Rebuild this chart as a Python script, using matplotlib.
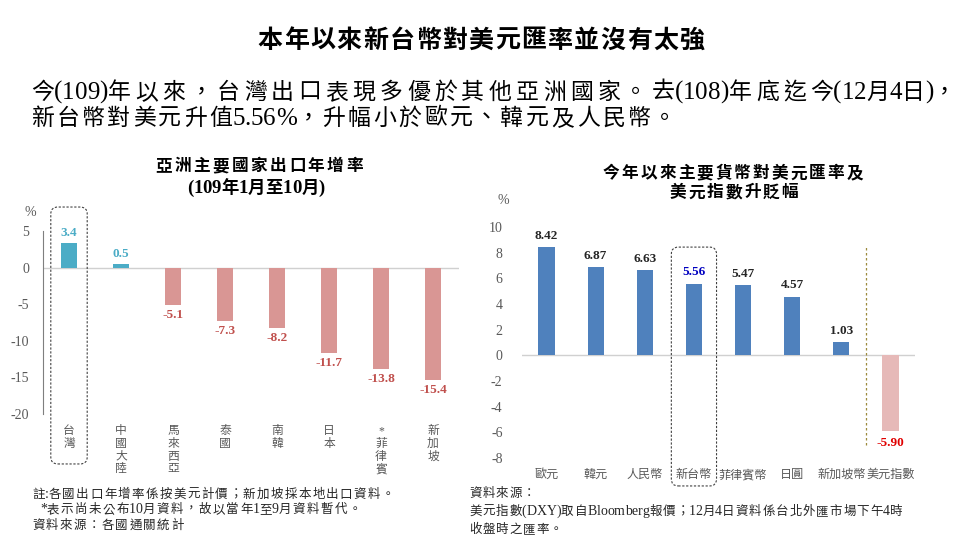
import matplotlib
matplotlib.use("Agg")
import matplotlib.pyplot as plt
from matplotlib.patches import FancyBboxPatch
from matplotlib.transforms import IdentityTransform, blended_transform_factory

FAM = ['Liberation Serif', 'Noto Sans CJK TC', 'DejaVu Sans']
plt.rcParams['font.family'] = FAM

# ---------------- data ----------------
export_countries = ['台灣', '中國大陸', '馬來西亞', '泰國', '南韓', '日本', '*菲律賓', '新加坡']
export_growth = [3.4, 0.5, -5.1, -7.3, -8.2, -11.7, -13.8, -15.4]
export_yticks = [5, 0, -5, -10, -15, -20]

currencies = ['歐元', '韓元', '人民幣', '新台幣', '菲律賓幣', '日圓', '新加坡幣', '美元指數']
currency_change = [8.42, 6.87, 6.63, 5.56, 5.47, 4.57, 1.03, -5.90]
currency_yticks = [10, 8, 6, 4, 2, 0, -2, -4, -6, -8]

title = '本年以來新台幣對美元匯率並沒有太強'
body_lines = ['今(109)年以來，台灣出口表現多優於其他亞洲國家。去(108)年底迄今(12月4日)，',
              '新台幣對美元升值5.56%，升幅小於歐元、韓元及人民幣。']
left_title = ['亞洲主要國家出口年增率', '(109年1月至10月)']
right_title = ['今年以來主要貨幣對美元匯率及', '美元指數升貶幅']
left_notes = ['註:各國出口年增率係按美元計價；新加坡採本地出口資料。',
              '*表示尚未公布10月資料，故以當年1至9月資料暫代。',
              '資料來源：各國通關統計']
right_notes = ['資料來源：',
               '美元指數(DXY)取自Bloomberg報價；12月4日資料係台北外匯市場下午4時',
               '收盤時之匯率。']

W, H = 960, 540
fig = plt.figure(figsize=(9.6, 5.4), dpi=100)
fig.patch.set_facecolor('white')
renderer = fig.canvas.get_renderer()

def fx(px):
    return px / W

def fy(py):
    return 1 - py / H

GRAY = '#595959'
DARK = '#262626'

_cache = {}
def measure(s, **kw):
    key = (s, tuple(sorted((k, str(v)) for k, v in kw.items())))
    if key not in _cache:
        t = fig.text(0, 0, s, **kw)
        _cache[key] = t.get_window_extent(renderer).width
        t.remove()
    return _cache[key]

def wide(c):
    return ord(c) >= 0x2E80

def layout(s, fs, fs_cjk, **kw):
    sizes = [fs_cjk if wide(c) else fs for c in s]
    adv = [measure('丨' + c + '丨', fontsize=z, **kw) - measure('丨丨', fontsize=z, **kw)
           for c, z in zip(s, sizes)]
    gaps = [1 if (i < len(s) - 1 and wide(c) and wide(s[i + 1])) else 0
            for i, c in enumerate(s)]
    return sizes, adv, gaps

def tracking_for(s, target, fs, fs_cjk=None, **kw):
    _, adv, gaps = layout(s, fs, fs_cjk or fs, **kw)
    return (target - sum(adv)) / max(sum(gaps), 1)

def tracked(xpx, ypx, s, track, fs, fs_cjk=None, ha='left', **kw):
    fs_cjk = fs_cjk or fs
    sizes, adv, gaps = layout(s, fs, fs_cjk, **kw)
    total = sum(adv) + track * sum(gaps)
    x = xpx - total / 2 if ha == 'center' else xpx
    base = ypx + 0.38 * fs_cjk * 100 / 72
    for c, z, a, g in zip(s, sizes, adv, gaps):
        fig.text(fx(x), fy(base), c, ha='left', va='baseline', fontsize=z, **kw)
        x += a + track * g

# ---------------- header text ----------------
kw_t = dict(fontweight='bold', color='black')
tracked(481, 38, title, tracking_for(title, 447, 18, **kw_t), 18, ha='center', **kw_t)
kw_b = dict(color='black')
tracked(31, 90, body_lines[0], tracking_for(body_lines[0], 925, 18, 16.5, **kw_b),
        18, 16.5, **kw_b)
tracked(31, 116, body_lines[1], tracking_for(body_lines[1], 645, 18, 16.5, **kw_b),
        18, 16.5, **kw_b)

# ---------------- left chart ----------------
axL = fig.add_axes([fx(43), fy(414), fx(459) - fx(43), fy(231) - fy(414)])
xL = list(range(len(export_countries)))
colsL = ['#4BACC6' if v >= 0 else '#D99694' for v in export_growth]
axL.bar(xL, export_growth, width=0.31, color=colsL, zorder=3)
axL.set_xlim(-0.5, len(export_countries) - 0.5)
axL.set_ylim(-20, 5)
axL.axhline(0, color='#D0D0D0', lw=1, zorder=2)
for s in ['top', 'right', 'bottom']:
    axL.spines[s].set_visible(False)
axL.spines['left'].set_color('#7F7F7F')
axL.spines['left'].set_linewidth(0.8)
axL.set_yticks(export_yticks)
axL.set_yticklabels([str(t) for t in export_yticks], fontsize=10, color=GRAY,
                    family=['Liberation Serif'])
axL.tick_params(axis='y', length=0, pad=10)
axL.set_xticks(xL)
axL.set_xticklabels(['\n'.join(n) for n in export_countries], fontsize=8.5, color=GRAY,
                    linespacing=1.08, va='top')
axL.tick_params(axis='x', length=0, pad=8)
for xi, v in zip(xL, export_growth):
    pos = v >= 0
    axL.annotate(f'{v:.1f}', (xi, v), xytext=(0, 3 if pos else -3), textcoords='offset points',
                 ha='center', va='bottom' if pos else 'top', fontsize=9.5, fontweight='bold',
                 color='#4BACC6' if pos else '#C0504D', family=['Liberation Serif'])
fig.text(fx(30), fy(212), '%', ha='center', va='center', fontsize=10, color=GRAY)
kw_c = dict(fontweight='bold', color='black')
tracked(259, 165, left_title[0], tracking_for(left_title[0], 207, 12.5, 12, **kw_c),
        12.5, 12, ha='center', **kw_c)
tracked(256, 186, left_title[1], 0, 13.5, 12.5, ha='center', **kw_c)

# ---------------- right chart ----------------
axR = fig.add_axes([fx(522), fy(458), fx(915) - fx(522), fy(227) - fy(458)])
xR = list(range(len(currencies)))
colsR = ['#4F81BD' if v >= 0 else '#E6B9B8' for v in currency_change]
axR.bar(xR, currency_change, width=0.33, color=colsR, zorder=3)
axR.set_xlim(-0.5, len(currencies) - 0.5)
axR.set_ylim(-8, 10)
axR.axhline(0, color='#D0D0D0', lw=1, zorder=2)
for s in ['top', 'right', 'bottom', 'left']:
    axR.spines[s].set_visible(False)
axR.set_yticks(currency_yticks)
axR.set_yticklabels([str(t) for t in currency_yticks], fontsize=10, color=GRAY,
                    family=['Liberation Serif'])
axR.tick_params(axis='y', length=0, pad=14)
axR.set_xticks(xR)
axR.set_xticklabels(currencies, fontsize=8.7, color=GRAY)
axR.tick_params(axis='x', length=0, pad=8)
for xi, (name, v) in enumerate(zip(currencies, currency_change)):
    if name == '新台幣':
        c = '#0000C0'
    elif v < 0:
        c = '#E00000'
    else:
        c = DARK
    pos = v >= 0
    axR.annotate(f'{v:.2f}', (xi, v), xytext=(0, 4 if pos else -4), textcoords='offset points',
                 ha='center', va='bottom' if pos else 'top', fontsize=9.5, fontweight='bold',
                 color=c, family=['Liberation Serif'])
bt = blended_transform_factory(axR.transData, axR.transAxes)
axR.plot([len(currencies) - 1.5] * 2, [0.056, 0.913], transform=bt, color='#9C8A3C',
         lw=0.9, ls=(0, (2, 2)), clip_on=False, zorder=4)
fig.text(fx(503), fy(201), '%', ha='center', va='center', fontsize=10, color=GRAY)
tracked(733, 172, right_title[0], tracking_for(right_title[0], 260, 12, **kw_c),
        12, ha='center', **kw_c)
tracked(734, 191, right_title[1], tracking_for(right_title[1], 128, 12, **kw_c),
        12, ha='center', **kw_c)

# ---------------- highlight boxes ----------------
def rounded_box(ax, idx, half, ytop, ybot):
    x0 = ax.transData.transform((idx - half, 0))[0]
    x1 = ax.transData.transform((idx + half, 0))[0]
    y1 = ax.transAxes.transform((0, ytop))[1]
    y0 = ax.transAxes.transform((0, ybot))[1]
    p = FancyBboxPatch((x0, y0), x1 - x0, y1 - y0,
                       boxstyle='round,pad=0,rounding_size=7',
                       transform=IdentityTransform(), fill=False,
                       ec='#404040', lw=0.8, ls=(0, (2, 1.5)), zorder=5)
    fig.add_artist(p)

rounded_box(axL, export_countries.index('台灣'), 0.35, 1.131, -0.273)
rounded_box(axR, currencies.index('新台幣'), 0.46, 0.913, -0.121)

# ---------------- footnotes ----------------
kw_n = dict(color=DARK)
tl = tracking_for(left_notes[0], 362, 10, 9, **kw_n)
tracked(32, 493, left_notes[0], tl, 10, 9, **kw_n)
tracked(40, 508, left_notes[1], tl, 10, 9, **kw_n)
tracked(32, 524, left_notes[2], tl, 10, 9, **kw_n)
tr = tracking_for(right_notes[1], 433, 10, 9, **kw_n)
tracked(469, 492, right_notes[0], tr, 10, 9, **kw_n)
tracked(469, 510, right_notes[1], tr, 10, 9, **kw_n)
tracked(469, 528, right_notes[2], tr, 10, 9, **kw_n)

fig.savefig('out.png', dpi=100, facecolor='white')
